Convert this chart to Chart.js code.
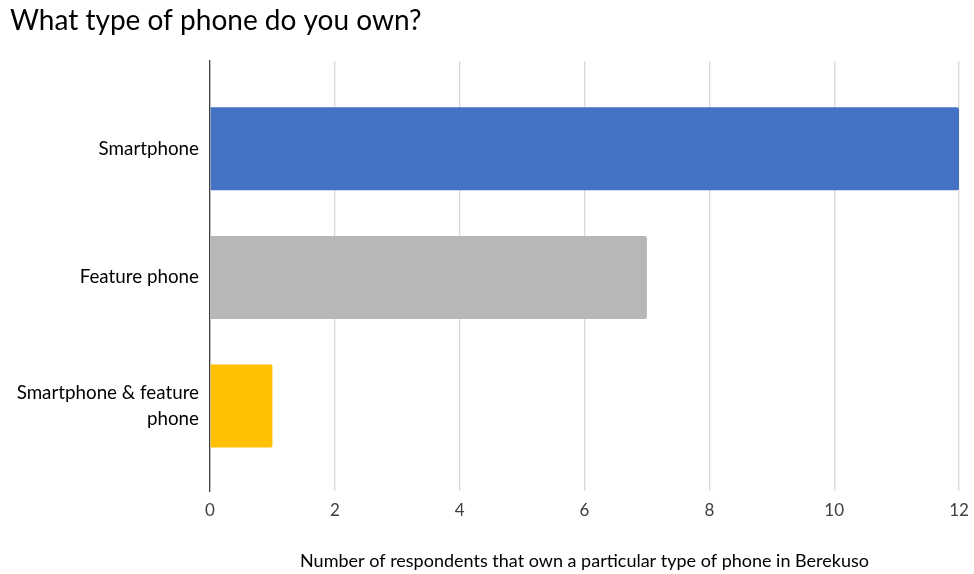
<!DOCTYPE html>
<html>
<head>
<meta charset="utf-8">
<script src="https://cdn.jsdelivr.net/npm/chart.js@4.4.1/dist/chart.umd.min.js"></script>
<style>
  html, body { margin: 0; padding: 0; background: #fff; }
  #wrap { width: 974px; height: 574px; position: relative; }
</style>
</head>
<body>
<div id="wrap"><canvas id="myChart"></canvas></div>
<script>
var categories = ['Smartphone', 'Feature phone', ['Smartphone & feature', 'phone']];
var respondents = [12, 7, 1];
var barColors = ['#4472C4', '#B7B7B7', '#FFC000'];
var xTicks = [0, 2, 4, 6, 8, 10, 12];

// bars sit on a numeric index axis so the grid can run past the outer bars
var points = respondents.map(function(v, i) {
  return { x: v, y: i };
});

Chart.defaults.font.family = 'Lato, "Open Sans", sans-serif';

new Chart('myChart', {
  type: 'bar',
  data: {
    datasets: [{
      data: points,
      backgroundColor: barColors,
      borderWidth: 0,
      borderRadius: 2,
      borderSkipped: 'start',
      barPercentage: 0.645,
      categoryPercentage: 1
    }]
  },
  options: {
    indexAxis: 'y',
    responsive: true,
    maintainAspectRatio: false,
    animation: false,
    layout: { padding: { left: 10, right: 15, top: 0, bottom: 0 } },
    plugins: {
      legend: { display: false },
      tooltip: { enabled: false },
      title: {
        display: true,
        text: 'What type of phone do you own?',
        align: 'start',
        color: '#000',
        font: { size: 28, weight: 'normal' },
        padding: { top: 4, bottom: 23.4 }
      }
    },
    scales: {
      x: {
        type: 'linear',
        min: 0,
        max: 12,
        afterBuildTicks: function(scale) {
          scale.ticks = xTicks.map(function(v) { return { value: v }; });
        },
        afterFit: function(scale) {
          scale.height = 83;
          scale.paddingRight = 0;
        },
        grid: { color: '#D9D9D9', lineWidth: 1.3, drawTicks: false },
        border: { display: false },
        ticks: { color: '#404040', font: { size: 17 }, padding: 9 },
        title: {
          display: true,
          text: 'Number of respondents that own a particular type of phone in Berekuso',
          color: '#000',
          font: { size: 18 },
          padding: { top: 0, bottom: 2 }
        }
      },
      y: {
        type: 'linear',
        reverse: true,
        offset: false,
        min: -0.682,
        max: 2.66,
        afterBuildTicks: function(scale) {
          scale.ticks = categories.map(function(c, i) { return { value: i }; });
        },
        afterFit: function(scale) { scale.width = 200; },
        grid: { display: false, drawTicks: false },
        border: { display: true, color: '#404040', width: 1.3 },
        ticks: {
          color: '#000',
          font: { size: 18.8, lineHeight: 1.35 },
          padding: 11,
          callback: function(value) { return categories[value]; }
        }
      }
    }
  }
});
</script>
</body>
</html>
